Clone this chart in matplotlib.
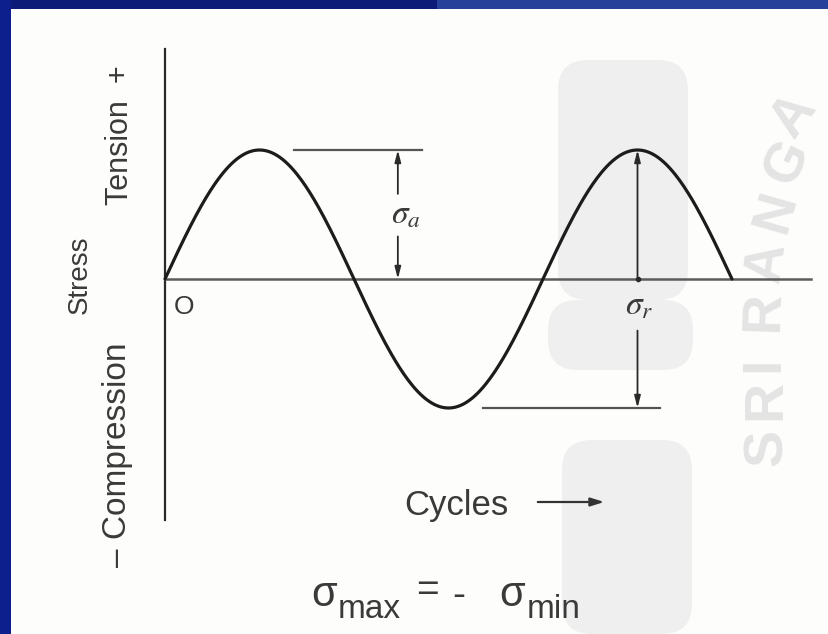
import numpy as np
import matplotlib
matplotlib.use("Agg")
import matplotlib.pyplot as plt
from matplotlib.patches import Rectangle, FancyBboxPatch

# fully reversed stress cycle, stress in units of the alternating amplitude
stress_amplitude = 1.0
stress_mean = 0.0
n_cycles = 1.5
axis_end_cycles = 1.71      # length of the zero-stress line, in cycles
stress_axis_top = 1.78
stress_axis_bottom = -1.87

# guide lines drawn at the max / min stress levels
amp_guide_cycles = [0.34, 0.68]
min_guide_cycles = [0.84, 1.31]
amp_arrow_cycle = 0.616
range_arrow_cycle = 1.25

W, H = 829, 634
ORIGIN_PX = (165, 279)
PX_PER_CYCLE = 378
PX_PER_STRESS = 129

SANS = ["Liberation Sans", "DejaVu Sans"]
INK = "#1c1c1c"
TEXT = "#3a3a3a"


def fx(px):
    return px / W


def fy(py):
    return 1 - py / H


fig = plt.figure(figsize=(W / 100, H / 100), dpi=100)
fig.patch.set_facecolor("#fdfefb")

# background layer: slide frame and faint logo
bg = fig.add_axes([0, 0, 1, 1], zorder=0)
bg.set_axis_off()
bg.set_xlim(0, W)
bg.set_ylim(H, 0)

bg.add_patch(Rectangle((0, 0), W, 9, facecolor="#0c1a78", edgecolor="none"))
bg.add_patch(Rectangle((437, 0), W - 437, 9, facecolor="#26419a", edgecolor="none"))
bg.add_patch(Rectangle((0, 0), 11, H, facecolor="#0d1f8c", edgecolor="none"))

for x0, y0, w, h in [(558, 60, 130, 240), (548, 300, 145, 70), (562, 440, 130, 194)]:
    bg.add_patch(FancyBboxPatch((x0, y0), w, h, boxstyle="round,pad=0,rounding_size=30",
                                facecolor="#efefef", edgecolor="none"))
logo = [("S", 768, 448, 90), ("R", 766, 400, 90), ("I", 764, 364, 90),
        ("R", 764, 312, 88), ("A", 768, 262, 82), ("N", 776, 212, 74),
        ("G", 788, 162, 64), ("A", 794, 116, 54)]
for ch, x, y, rot in logo:
    bg.text(x, y, ch, rotation=rot, ha="center", va="center",
            fontsize=40, fontweight="bold", family=SANS, color="#e4e4e4")

ax = fig.add_axes([0, 0, 1, 1], zorder=1)
ax.set_axis_off()
ax.patch.set_alpha(0)
ax.set_xlim(-ORIGIN_PX[0] / PX_PER_CYCLE, (W - ORIGIN_PX[0]) / PX_PER_CYCLE)
ax.set_ylim((ORIGIN_PX[1] - H) / PX_PER_STRESS, ORIGIN_PX[1] / PX_PER_STRESS)

cycles = np.linspace(0, n_cycles, 400)
stress = stress_mean + stress_amplitude * np.sin(2 * np.pi * cycles)

# axes of the diagram
ax.plot([0, 0], [stress_axis_bottom, stress_axis_top], color="#2a2a2a", lw=1.6)
ax.plot([0, axis_end_cycles], [stress_mean, stress_mean], color="#5c5c5c", lw=1.8)
ax.plot(cycles, stress, color=INK, lw=2.3, solid_capstyle="round")

# max / min stress levels
ax.plot(amp_guide_cycles, [stress_amplitude] * 2, color="#555555", lw=1.6)
ax.plot(min_guide_cycles, [-stress_amplitude] * 2, color="#555555", lw=1.6)

arrow = dict(arrowstyle="-|>,head_length=0.7,head_width=0.18", color="#2a2a2a",
             lw=1.3, shrinkA=0, shrinkB=0)
ax.annotate("", xy=(amp_arrow_cycle, stress_amplitude), xytext=(amp_arrow_cycle, 0.66),
            arrowprops=arrow)
ax.annotate("", xy=(amp_arrow_cycle, stress_mean), xytext=(amp_arrow_cycle, 0.33),
            arrowprops=arrow)
ax.text(amp_arrow_cycle + 0.02, 0.5, r"$\sigma_a$", math_fontfamily="stix",
        fontsize=24, color=TEXT, ha="center", va="center")

ax.annotate("", xy=(range_arrow_cycle, stress_amplitude), xytext=(range_arrow_cycle, stress_mean),
            arrowprops=arrow)
ax.plot([range_arrow_cycle], [stress_mean], "o", color="#2a2a2a", ms=3)
ax.annotate("", xy=(range_arrow_cycle, -stress_amplitude), xytext=(range_arrow_cycle, -0.4),
            arrowprops=arrow)
ax.text(range_arrow_cycle + 0.005, -0.2, r"$\sigma_r$", math_fontfamily="stix",
        fontsize=24, color=TEXT, ha="center", va="center")

ax.text(0.05, -0.22, "O", fontsize=19, family=SANS, color=TEXT, ha="center", va="center")

# labels around the diagram
fig.text(fx(80), fy(275), "Stress", rotation=90, ha="center", va="center",
         fontsize=20, family=SANS, color=TEXT, zorder=3)
fig.text(fx(120), fy(135), "Tension  +", rotation=90, ha="center", va="center",
         fontsize=22, family=SANS, color=TEXT, zorder=3)
fig.text(fx(118), fy(455), "\u2013 Compression", rotation=90, ha="center", va="center",
         fontsize=24, family=SANS, color=TEXT, zorder=3)
fig.text(fx(456), fy(505), "Cycles", ha="center", va="center",
         fontsize=25, family=SANS, color=TEXT, zorder=3)
ax.annotate("", xy=(fx(607), fy(502)), xytext=(fx(535), fy(502)), xycoords="figure fraction",
            textcoords="figure fraction",
            arrowprops=dict(arrowstyle="-|>,head_length=0.8,head_width=0.25",
                            color="#333333", lw=1.6))

# sigma_max = - sigma_min, set piece by piece for wide subscripts
formula = [("\u03c3", 311, 595, 30), ("max", 338, 610, 24), ("=", 416, 591, 28),
           ("-", 452, 596, 28), ("\u03c3", 499, 595, 30), ("min", 527, 610, 24)]
for s, x, y, size in formula:
    fig.text(fx(x), fy(y), s, ha="left", va="center", fontsize=size,
             family=SANS, color=TEXT, zorder=3)

fig.savefig("out.png", dpi=100, facecolor=fig.get_facecolor())
